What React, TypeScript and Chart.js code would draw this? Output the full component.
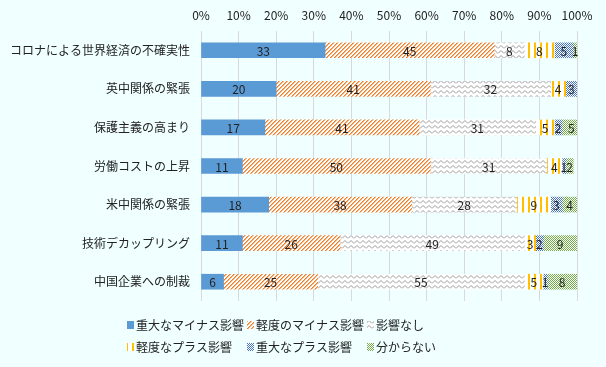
import React, { useEffect, useRef } from "react";
import { Chart, registerables } from "chart.js";

Chart.register(...registerables);

const categories = [
  "コロナによる世界経済の不確実性",
  "英中関係の緊張",
  "保護主義の高まり",
  "労働コストの上昇",
  "米中関係の緊張",
  "技術デカップリング",
  "中国企業への制裁",
];

const seriesNames = [
  "重大なマイナス影響",
  "軽度のマイナス影響",
  "影響なし",
  "軽度なプラス影響",
  "重大なプラス影響",
  "分からない",
];

const severeMinus = [33, 20, 17, 11, 18, 11, 6];
const mildMinus = [45, 41, 41, 50, 38, 26, 25];
const noImpact = [8, 32, 31, 31, 28, 49, 55];
const mildPlus = [8, 4, 5, 4, 9, 3, 5];
const severePlus = [5, 3, 2, 1, 3, 2, 1];
const unknown = [1, 0, 5, 2, 4, 9, 8];

const xTicks = [0, 10, 20, 30, 40, 50, 60, 70, 80, 90, 100];

const FONT = '"Noto Sans CJK JP", "Noto Sans", sans-serif';
const BG = "#F0FFFF";

function makeTile(w: number, h: number, draw: (c: CanvasRenderingContext2D) => void) {
  const cv = document.createElement("canvas");
  cv.width = w;
  cv.height = h;
  const c = cv.getContext("2d")!;
  c.fillStyle = "#ffffff";
  c.fillRect(0, 0, w, h);
  draw(c);
  return cv;
}

function makePatterns(ctx: CanvasRenderingContext2D) {
  const diag = makeTile(4, 4, (c) => {
    for (let x = 0; x < 4; x++) {
      for (let y = 0; y < 4; y++) {
        const m = (x + y) % 4;
        if (m === 3) {
          c.fillStyle = "#F07F2A";
          c.fillRect(x, y, 1, 1);
        } else if (m === 0) {
          c.fillStyle = "rgba(240,127,42,0.6)";
          c.fillRect(x, y, 1, 1);
        }
      }
    }
  });
  const zig = makeTile(6, 5, (c) => {
    c.strokeStyle = "#9a9a9a";
    c.lineWidth = 1;
    c.beginPath();
    c.moveTo(0, 3.5);
    c.lineTo(3, 0.5);
    c.lineTo(6, 3.5);
    c.stroke();
  });
  const vert = makeTile(6, 4, (c) => {
    c.fillStyle = "#FFC000";
    c.fillRect(0, 0, 2, 4);
  });
  const blue = makeTile(2, 2, (c) => {
    c.fillStyle = "#4472C4";
    c.fillRect(0, 0, 1, 1);
    c.fillRect(1, 1, 1, 1);
  });
  const green = makeTile(2, 2, (c) => {
    c.fillStyle = "#70AD47";
    c.fillRect(0, 0, 1, 1);
    c.fillRect(1, 1, 1, 1);
  });
  return [
    "#5B9BD5",
    ctx.createPattern(diag, "repeat")!,
    ctx.createPattern(zig, "repeat")!,
    ctx.createPattern(vert, "repeat")!,
    ctx.createPattern(blue, "repeat")!,
    ctx.createPattern(green, "repeat")!,
  ];
}

const legendRows = [
  [0, 1, 2],
  [3, 4, 5],
];
const legendCols = [
  [127, 247, 367],
  [127, 247, 367],
];

const labelPlugin = {
  id: "segLabels",
  afterDatasetsDraw(chart: any) {
    const ctx = chart.ctx;
    ctx.save();
    ctx.font = `12px ${FONT}`;
    ctx.fillStyle = "#222";
    ctx.textAlign = "center";
    ctx.textBaseline = "middle";
    chart.data.datasets.forEach((ds: any, di: number) => {
      const meta = chart.getDatasetMeta(di);
      meta.data.forEach((el: any, i: number) => {
        const v = ds.data[i];
        if (!v) return;
        const cx = (el.x + el.base) / 2;
        ctx.fillText(String(v), cx, el.y + 1);
      });
    });
    ctx.restore();
  },
};

const legendPlugin = {
  id: "customLegend",
  afterDraw(chart: any) {
    const ctx = chart.ctx;
    const bottom = chart.chartArea.bottom;
    ctx.save();
    ctx.font = `12px ${FONT}`;
    ctx.textBaseline = "middle";
    ctx.textAlign = "left";
    legendRows.forEach((row, r) => {
      const y = bottom + 24 + r * 22;
      row.forEach((di, k) => {
        const x = legendCols[r][k];
        const ds = chart.data.datasets[di];
        ctx.fillStyle = ds.backgroundColor;
        ctx.fillRect(x, y - 4, 7, 8);
        ctx.fillStyle = "#222";
        ctx.fillText(ds.label, x + 9, y);
      });
    });
    ctx.restore();
  },
};

export default function App() {
  const ref = useRef<HTMLCanvasElement>(null);
  useEffect(() => {
    const canvas = ref.current!;
    const ctx = canvas.getContext("2d")!;
    const fills = makePatterns(ctx);
    const values = [severeMinus, mildMinus, noImpact, mildPlus, severePlus, unknown];
    const chart = new Chart(canvas, {
      type: "bar",
      data: {
        labels: categories,
        datasets: values.map((d, i) => ({
          label: seriesNames[i],
          data: d,
          backgroundColor: fills[i] as any,
          borderWidth: 0,
          barThickness: 15,
          stack: "s",
        })),
      },
      options: {
        indexAxis: "y",
        animation: false,
        responsive: false,
        devicePixelRatio: 1,
        layout: { padding: { left: 0, right: 29, top: 0, bottom: 66 } },
        plugins: {
          legend: { display: false },
          tooltip: { enabled: false },
        },
        scales: {
          x: {
            stacked: true,
            position: "top",
            min: 0,
            max: 100,
            afterBuildTicks: (s: any) => {
              s.ticks = xTicks.map((v) => ({ value: v }));
            },
            afterFit: (s: any) => {
              s.height = 31;
            },
            ticks: {
              callback: (v: any) => v + "%",
              font: { family: FONT, size: 12 },
              color: "#222",
              padding: 8,
              maxRotation: 0,
            },
            grid: { color: "#d9d9d9", drawTicks: false },
            border: { display: false },
          },
          y: {
            stacked: true,
            afterFit: (s: any) => {
              s.width = 201;
            },
            ticks: {
              font: { family: FONT, size: 12 },
              color: "#222",
              padding: 3,
            },
            grid: { display: false },
            border: { display: false },
          },
        },
      },
      plugins: [labelPlugin, legendPlugin],
    });
    return () => chart.destroy();
  }, []);
  return (
    <div
      style={{
        position: "absolute",
        left: 0,
        top: 0,
        width: 606,
        height: 367,
        background: BG,
      }}
    >
      <canvas ref={ref} width={606} height={367} style={{ display: "block" }} />
    </div>
  );
}
